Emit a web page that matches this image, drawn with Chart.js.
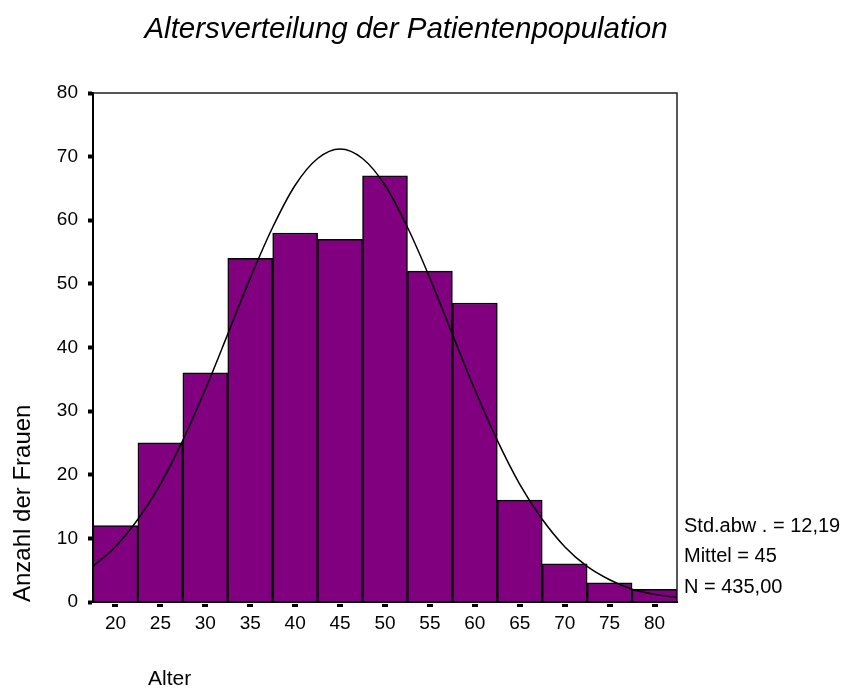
<!DOCTYPE html>
<html>
<head>
<meta charset="utf-8">
<script src="https://cdn.jsdelivr.net/npm/chart.js@4/dist/chart.umd.min.js"></script>
<style>
  html, body { margin: 0; padding: 0; background: #fff; }
  #wrap { width: 851px; height: 688px; }
</style>
</head>
<body>
<div id="wrap"><canvas id="chart" width="851" height="688"></canvas></div>
<script>
// Histogramm: Klassenmitten und Häufigkeiten
const ages = [20, 25, 30, 35, 40, 45, 50, 55, 60, 65, 70, 75, 80];
const counts = [12, 25, 36, 54, 58, 57, 67, 52, 47, 16, 6, 3, 2];

// Normalverteilungskurve
const curveAges = [17.5, 20, 22.5, 25, 27.5, 30, 32.5, 35, 37.5, 40, 42.5, 45, 47.5, 50,
  52.5, 55, 57.5, 60, 62.5, 65, 67.5, 70, 72.5, 75, 77.5, 80, 82.5];
const curveCounts = [5.6, 8.7, 13.0, 18.5, 25.4, 33.4, 42.1, 50.9, 58.9, 65.5, 69.7, 71.2, 69.7, 65.5,
  58.9, 50.9, 42.1, 33.4, 25.4, 18.5, 13.0, 8.7, 5.6, 3.5, 2.0, 1.2, 0.7];

const xTicks = [20, 25, 30, 35, 40, 45, 50, 55, 60, 65, 70, 75, 80];
const yTicks = [0, 10, 20, 30, 40, 50, 60, 70, 80];
const statsLines = ['Std.abw . = 12,19', 'Mittel = 45', 'N = 435,00'];

const FONT = '"Liberation Sans", Arial, sans-serif';

// Rahmen, Titel, Beschriftungen, x-Teilstriche
const extras = {
  id: 'extras',
  afterDraw(chart) {
    const ctx = chart.ctx;
    const a = chart.chartArea;
    const xs = chart.scales.x;
    ctx.save();
    ctx.strokeStyle = '#222';
    ctx.lineWidth = 1.5;
    ctx.beginPath();
    ctx.moveTo(a.left, a.top);
    ctx.lineTo(a.right, a.top);
    ctx.lineTo(a.right, a.bottom);
    ctx.stroke();

    ctx.fillStyle = '#000';
    xTicks.forEach(v => {
      const px = xs.getPixelForValue(v);
      ctx.fillRect(Math.round(px) - 3, a.bottom + 2, 6, 3);
    });

    ctx.fillStyle = '#000';
    ctx.textBaseline = 'alphabetic';
    ctx.textAlign = 'center';
    ctx.font = 'italic 29.5px ' + FONT;
    ctx.fillText('Altersverteilung der Patientenpopulation', 406, 38);

    ctx.textAlign = 'left';
    ctx.font = '21px ' + FONT;
    ctx.fillText('Alter', 148, 685);

    ctx.font = '20px ' + FONT;
    const base = [532, 562, 593];
    statsLines.forEach((t, i) => ctx.fillText(t, a.right + 7, base[i]));

    ctx.save();
    ctx.translate(30, 602);
    ctx.rotate(-Math.PI / 2);
    ctx.font = '24px ' + FONT;
    ctx.textAlign = 'left';
    ctx.fillText('Anzahl der Frauen', 0, 0);
    ctx.restore();
    ctx.restore();
  }
};

new Chart(document.getElementById('chart'), {
  data: {
    datasets: [
      {
        type: 'line',
        data: curveAges.map((x, i) => ({ x: x, y: curveCounts[i] })),
        borderColor: '#000',
        borderWidth: 1.5,
        pointRadius: 0,
        tension: 0.4,
        cubicInterpolationMode: 'monotone',
        fill: false,
        order: 0
      },
      {
        type: 'bar',
        data: ages.map((x, i) => ({ x: x, y: counts[i] })),
        backgroundColor: '#800080',
        borderColor: '#000',
        borderWidth: 1.5,
        barPercentage: 1,
        categoryPercentage: 1,
        order: 1
      }
    ]
  },
  plugins: [extras],
  options: {
    responsive: false,
    animation: false,
    layout: { padding: { left: 50, right: 174, top: 93, bottom: 46 } },
    plugins: {
      legend: { display: false },
      tooltip: { enabled: false },
      title: { display: false }
    },
    scales: {
      x: {
        type: 'linear',
        min: 17.5,
        max: 82.5,
        offset: false,
        afterFit: s => { s.height = 40; },
        afterBuildTicks: s => { s.ticks = xTicks.map(v => ({ value: v })); },
        grid: { drawOnChartArea: false, drawTicks: false, offset: false },
        border: { display: true, color: '#000', width: 2 },
        ticks: { color: '#000', padding: 10, maxRotation: 0, autoSkip: false, font: { family: FONT, size: 19 } }
      },
      y: {
        min: 0,
        max: 80,
        afterFit: s => { s.width = 43; },
        afterBuildTicks: s => { s.ticks = yTicks.map(v => ({ value: v })); },
        grid: { drawOnChartArea: false, tickLength: 5, tickWidth: 4, tickColor: '#000' },
        border: { display: true, color: '#000', width: 2 },
        ticks: { color: '#000', padding: 10, font: { family: FONT, size: 19 } }
      }
    }
  }
});
</script>
</body>
</html>
